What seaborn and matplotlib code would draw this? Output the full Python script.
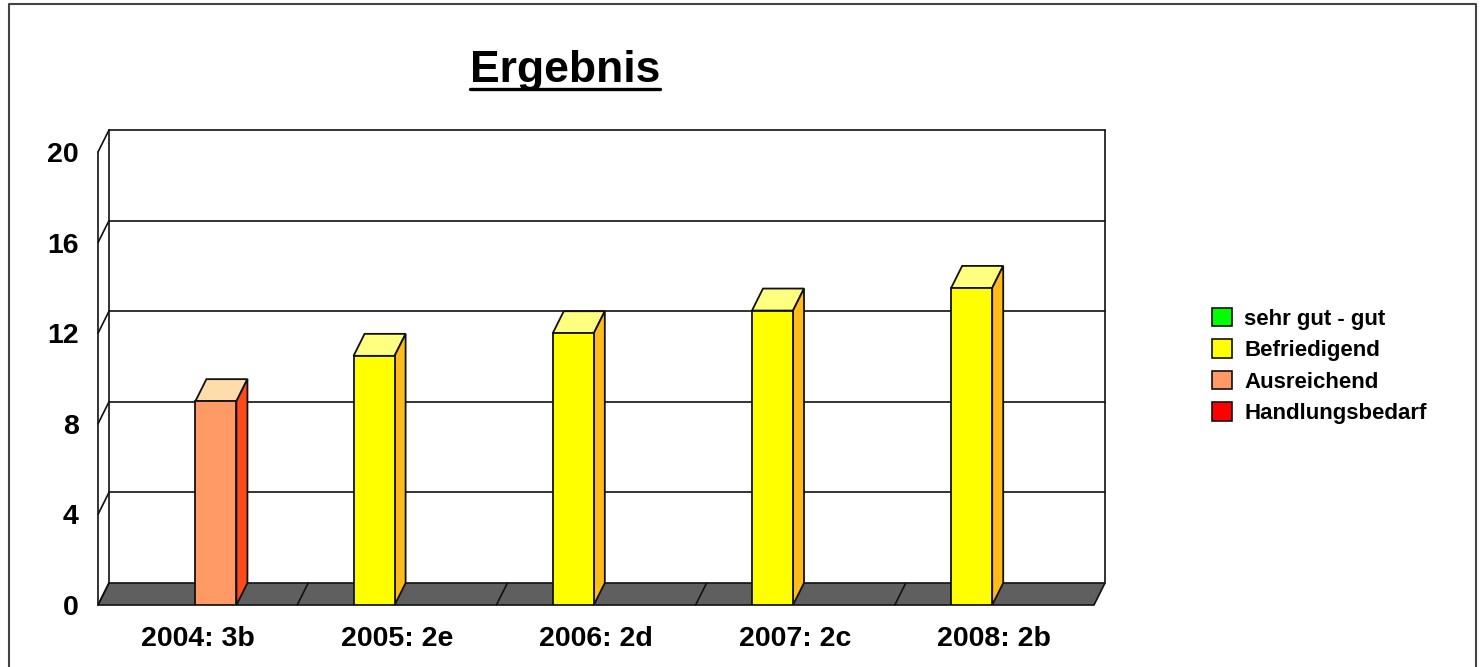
import numpy as np
import pandas as pd
import seaborn as sns
from matplotlib import pyplot as plt
from matplotlib.colors import to_rgba
from matplotlib.lines import Line2D
from matplotlib.patches import Patch

years = ["2004: 3b", "2005: 2e", "2006: 2d", "2007: 2c", "2008: 2b"]
sehr_gut = [np.nan, np.nan, np.nan, np.nan, np.nan]
befriedigend = [np.nan, 11, 12, 13, 14]
ausreichend = [9, np.nan, np.nan, np.nan, np.nan]
handlungsbedarf = [np.nan, np.nan, np.nan, np.nan, np.nan]
series_names = ["sehr gut - gut", "Befriedigend", "Ausreichend", "Handlungsbedarf"]
y_ticks = [0, 4, 8, 12, 16, 20]

front_colors = ["#00FF00", "#FFFF00", "#FF9966", "#FF0000"]
top_colors = ["#80FF80", "#FFFF80", "#FFDDAA", "#FF8080"]
side_colors = ["#00C000", "#FFBB1A", "#FF4A1C", "#C00000"]

W, H = 1480, 667
df = pd.concat([
    pd.DataFrame({"year": years, "series": name, "value": values})
    for name, values in zip(series_names, [sehr_gut, befriedigend, ausreichend, handlungsbedarf])
], ignore_index=True)

sns.set_style("white")
plt.rcParams["font.family"] = ["Liberation Sans", "DejaVu Sans"]
plt.rcParams["font.weight"] = "bold"
plt.rcParams["text.color"] = "black"
plt.rcParams["xtick.labelcolor"] = "black"
plt.rcParams["ytick.labelcolor"] = "black"

fig = plt.figure(figsize=(W / 100, H / 100), dpi=100)
ax = fig.add_axes([98 / W, (H - 605) / H, 996 / W, 453 / H])
ax.patch.set_alpha(0)

sns.barplot(
    data=df, x="year", y="value", hue="series", order=years, hue_order=series_names,
    palette=front_colors, saturation=1, width=0.824, gap=0, edgecolor="#111111",
    linewidth=1.3, legend=False, ax=ax, zorder=5,
)
bars = list(ax.patches)

# bars sit a little left of the category centre in the original
shift = 0.011
ax.set_xlim(-0.5 + shift, 4.5 + shift)
ax.set_ylim(0, 20)
sns.despine(ax=ax, left=True, bottom=True, top=True, right=True)

# depth of the fake 3d box, in data units
dx = 11 / 996 * 5
dy = 22 / 453 * 20
x0, x1 = ax.get_xlim()
line = dict(color="#111111", lw=1.2, clip_on=False)

# floor
ax.fill([x0, x0 + dx, x1 + dx, x1], [0, dy, dy, 0], fc="#5F5F5F", ec="#111111", lw=1.2, clip_on=False, zorder=1)
for k in range(1, 5):
    ax.plot([x0 + k, x0 + k + dx], [0, dy], zorder=2, **line)

# walls and grid
ax.plot([x0, x0], [0, 20], zorder=2, **line)
ax.plot([x0 + dx, x0 + dx], [dy, 20 + dy], zorder=2, **line)
ax.plot([x1 + dx, x1 + dx], [dy, 20 + dy], zorder=2, **line)
for t in y_ticks:
    ax.plot([x0, x0 + dx], [t, t + dy], zorder=2, **line)
    if t > 0:
        ax.plot([x0 + dx, x1 + dx], [t + dy, t + dy], zorder=2, **line)

# top and side faces of each bar
for bar in bars:
    h = bar.get_height()
    if not np.isfinite(h) or h == 0:
        continue
    left, right = bar.get_x(), bar.get_x() + bar.get_width()
    i = [to_rgba(c) for c in front_colors].index(bar.get_facecolor())
    ax.fill([left, left + dx, right + dx, right], [h, h + dy, h + dy, h],
            fc=top_colors[i], ec="#111111", lw=1.3, clip_on=False, zorder=4)
    ax.fill([right, right + dx, right + dx, right], [0, dy, h + dy, h],
            fc=side_colors[i], ec="#111111", lw=1.3, clip_on=False, zorder=4)

ax.set_xlabel("")
ax.set_ylabel("")
ax.set_xticks(np.arange(5) + shift, years)
ax.set_yticks(y_ticks)
ax.tick_params(axis="both", length=0, labelsize=20.5)
ax.tick_params(axis="x", pad=15)
ax.tick_params(axis="y", pad=14)

handles = [Patch(fc=c, ec="#111111", lw=1.2) for c in front_colors]
fig.legend(
    handles, series_names, loc="center left", bbox_to_anchor=(1212 / W, (H - 366) / H),
    frameon=False, fontsize=16, handlelength=0.9, handleheight=0.9, handletextpad=0.55,
    labelspacing=0.43, borderpad=0, borderaxespad=0,
)

# title with underline
title = fig.text(565 / W, (H - 82) / H, "Ergebnis", fontsize=32, fontweight="bold", ha="center", va="baseline", color="black")
fig.canvas.draw()
box = title.get_window_extent()
fig.add_artist(Line2D([box.x0 / W, box.x1 / W], [(H - 89) / H] * 2, color="black", lw=2.4))

# outer frame, open at the bottom
fig.add_artist(Line2D([9 / W, 9 / W, 1476 / W, 1476 / W], [0, (H - 4) / H, (H - 4) / H, 0], color="#444444", lw=1.5))

fig.savefig("out.png", dpi=100)
